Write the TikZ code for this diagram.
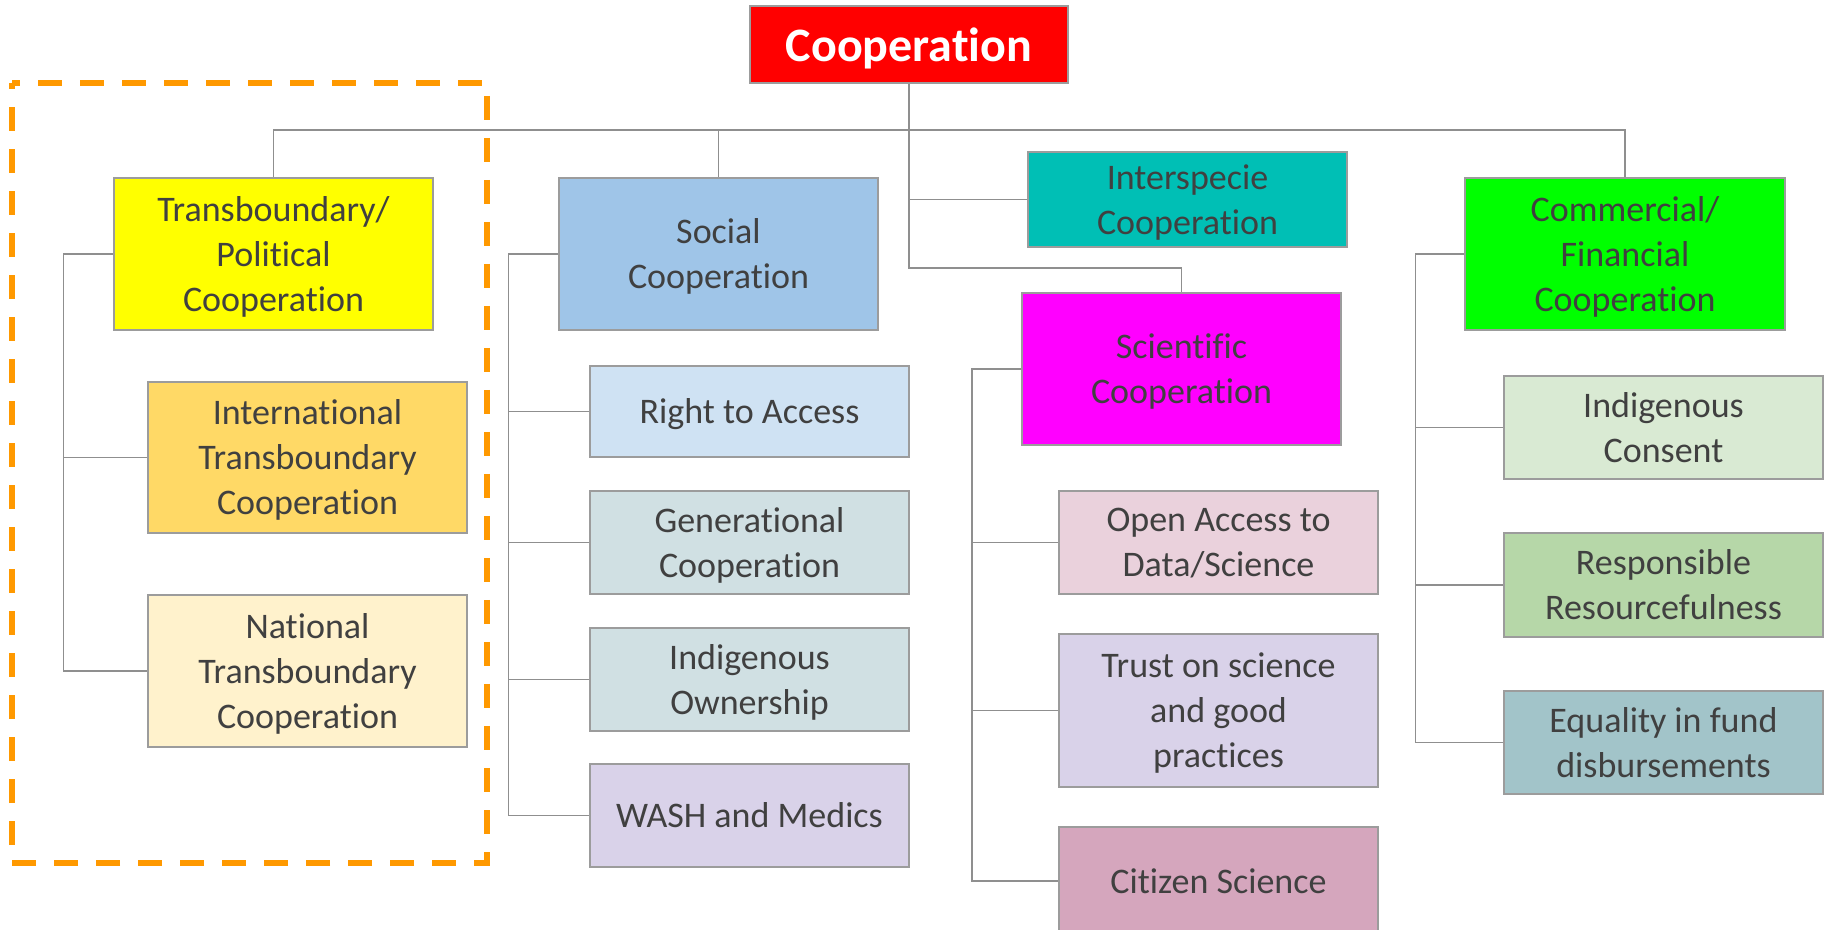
\documentclass[tikz,border=0pt]{standalone}
\usepackage{fontspec}
\setmainfont{Carlito}[RawFeature={-liga;-dlig;-clig}]
\definecolor{txt}{HTML}{404040}
\definecolor{bord}{HTML}{9C9C9C}
\definecolor{conn}{HTML}{8F8F8F}
\definecolor{dashor}{HTML}{FF9900}
\definecolor{cRed}{HTML}{FF0000}
\definecolor{cYel}{HTML}{FFFF00}
\definecolor{cGold}{HTML}{FFD966}
\definecolor{cCream}{HTML}{FFF2CC}
\definecolor{cSoc}{HTML}{9FC5E8}
\definecolor{cRta}{HTML}{CFE2F3}
\definecolor{cGen}{HTML}{D0E0E3}
\definecolor{cLav}{HTML}{D9D2E9}
\definecolor{cTeal}{HTML}{00BFB5}
\definecolor{cMag}{HTML}{FF00FF}
\definecolor{cPink}{HTML}{EAD1DC}
\definecolor{cRose}{HTML}{D5A6BD}
\definecolor{cGreen}{HTML}{00FF00}
\definecolor{cMint}{HTML}{D9EAD3}
\definecolor{cSage}{HTML}{B6D7A8}
\definecolor{cSlate}{HTML}{A2C4C9}
\tikzset{
  box/.style={draw=bord, line width=1pt, inner sep=0pt, align=center, text depth=0pt,
    text=txt, font=\fontsize{18}{22.5}\selectfont, minimum width=159.5pt},
  titlebox/.style={box, text=white, font=\fontsize{24}{28}\selectfont\bfseries},
  link/.style={draw=conn, line width=0.9pt},
  group/.style={draw=dashor, line width=3pt, dash pattern=on 12pt off 9pt, dash phase=8pt}
}
\begin{document}
\begin{tikzpicture}[x=0.5pt, y=-0.5pt]
\useasboundingbox (0,0) rectangle (1828,930);
\clip (0,0) rectangle (1828,930);
% dashed group
\draw[group] (12,83) -- (487,83) -- (487,863) -- (12,863) -- cycle;
% nodes
\node[titlebox, fill=cRed, minimum width=159pt, minimum height=38.5pt] (coop) at (909,44.5) {Cooperation};
\node[box, fill=cYel, minimum height=76pt] (tp) at (273.5,254) {Transboundary/\\Political\\Cooperation};
\node[box, fill=cGold, minimum height=75.5pt] (intl) at (307.5,457.5) {International\\Transboundary\\Cooperation};
\node[box, fill=cCream, minimum height=76pt] (natl) at (307.5,671) {National\\Transboundary\\Cooperation};
\node[box, fill=cSoc, minimum height=76pt] (social) at (718.5,254) {Social\\Cooperation};
\node[box, fill=cRta, minimum height=45.5pt] (rta) at (749.5,411.5) {Right to Access};
\node[box, fill=cGen, minimum height=51.5pt] (gen) at (749.5,542.5) {Generational\\Cooperation};
\node[box, fill=cGen, minimum height=51.5pt] (iown) at (749.5,679.5) {Indigenous\\Ownership};
\node[box, fill=cLav, minimum height=51.5pt] (wash) at (749.5,815.5) {WASH and Medics};
\node[box, fill=cTeal, minimum height=47.5pt] (inter) at (1187.5,199.5) {Interspecie\\Cooperation};
\node[box, fill=cMag, minimum height=76pt] (sci) at (1181.5,369) {Scientific\\Cooperation};
\node[box, fill=cPink, minimum height=51.5pt] (open) at (1218.5,542.5) {Open Access to\\Data/Science};
\node[box, fill=cLav, minimum height=76.5pt] (trust) at (1218.5,710.5) {Trust on science\\and good\\practices};
\node[box, fill=cRose, minimum height=54pt] (cit) at (1218.5,881) {Citizen Science};
\node[box, fill=cGreen, minimum width=160pt, minimum height=76pt] (comm) at (1625,254) {Commercial/\\Financial\\Cooperation};
\node[box, fill=cMint, minimum height=51.5pt] (cons) at (1663.5,427.5) {Indigenous\\Consent};
\node[box, fill=cSage, minimum height=52pt] (resp) at (1663.5,585) {Responsible\\Resourcefulness};
\node[box, fill=cSlate, minimum height=51.5pt] (eq) at (1663.5,742.5) {Equality in fund\\disbursements};
% coordinates
\coordinate (bus) at (909,130);
\coordinate (knee) at (909,268);
\coordinate (L1) at (63.5,254);
\coordinate (L2) at (508.5,254);
\coordinate (L3) at (972,369);
\coordinate (L4) at (1415.5,254);
% trunk connectors
\draw[link] (coop.south) -- (knee) -| (sci.north);
\draw[link] (coop.south) |- (inter.west);
\draw[link] (tp.north) |- (bus) -| (comm.north);
\draw[link] (social.north) -- (social.north |- bus);
% group 1
\draw[link] (tp.west) -- (L1) |- (natl.west);
\draw[link] (intl.west) -- (intl.west -| L1);
% group 2
\draw[link] (social.west) -- (L2) |- (wash.west);
\draw[link] (rta.west) -- (rta.west -| L2);
\draw[link] (gen.west) -- (gen.west -| L2);
\draw[link] (iown.west) -- (iown.west -| L2);
% group 3
\draw[link] (sci.west) -- (L3) |- (cit.west);
\draw[link] (open.west) -- (open.west -| L3);
\draw[link] (trust.west) -- (trust.west -| L3);
% group 4
\draw[link] (comm.west) -- (L4) |- (eq.west);
\draw[link] (cons.west) -- (cons.west -| L4);
\draw[link] (resp.west) -- (resp.west -| L4);
\end{tikzpicture}
\end{document}
